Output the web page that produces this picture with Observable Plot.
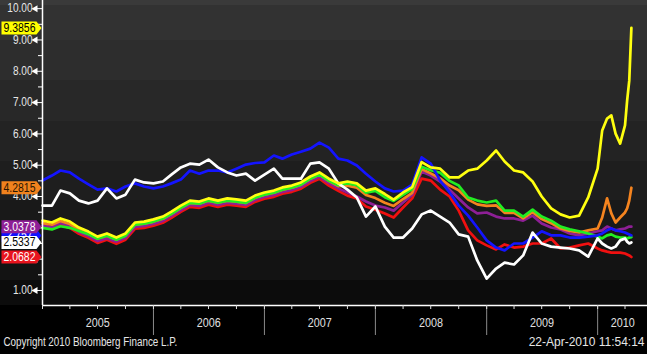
<!DOCTYPE html>
<html>
<head>
<meta charset="utf-8">
<script src="https://cdn.jsdelivr.net/npm/d3@7"></script>
<script src="https://cdn.jsdelivr.net/npm/@observablehq/plot@0.6"></script>
<style>
  html, body { margin: 0; padding: 0; background: #000; }
</style>
</head>
<body>
<div id="chart"></div>
<script>
// ---- Dates: month starts 2005-2009, then finer steps in 2010 ----
const monthlyDates = d3.utcMonth.range(new Date("2005-01-01"), new Date("2010-01-01"));
const dates2010 = ["2010-01-01","2010-01-16","2010-02-01","2010-02-15","2010-03-01","2010-03-16","2010-04-01","2010-04-08","2010-04-15","2010-04-22"].map(d => new Date(d));
const dates = monthlyDates.concat(dates2010);

// ---- Series values ----
const yellowVals = [
  3.23, 3.17, 3.30, 3.20, 3.01, 2.88, 2.72, 2.82, 2.69, 2.82, 3.17, 3.20,
  3.27, 3.36, 3.52, 3.71, 3.87, 3.84, 3.94, 3.87, 3.94, 3.91, 3.87, 4.03,
  4.13, 4.19, 4.29, 4.35, 4.45, 4.64, 4.77, 4.57, 4.42, 4.48, 4.42, 4.19,
  4.26, 4.08, 3.90, 4.13, 4.30, 5.10, 4.93, 4.89, 4.61, 4.61, 4.83, 4.89,
  5.15, 5.47, 5.12, 4.83, 4.77, 4.48, 4.00, 3.62, 3.43, 3.33, 3.39, 3.97,
  4.89, 6.11, 6.49, 6.59, 6.01, 5.69, 6.27, 7.06, 7.70, 9.3856
];
const greenVals = [
  3.00, 2.95, 3.05, 3.00, 2.90, 2.80, 2.65, 2.75, 2.62, 2.75, 3.10, 3.13,
  3.20, 3.30, 3.45, 3.64, 3.80, 3.77, 3.87, 3.80, 3.87, 3.84, 3.80, 3.96,
  4.06, 4.12, 4.22, 4.28, 4.38, 4.57, 4.70, 4.50, 4.36, 4.42, 4.36, 4.12,
  4.18, 3.98, 3.86, 4.05, 4.24, 4.95, 4.84, 4.76, 4.50, 4.35, 3.97, 3.87,
  3.81, 3.87, 3.55, 3.55, 3.36, 3.58, 3.36, 3.23, 3.04, 2.95, 2.89, 2.82,
  2.72, 2.66, 2.76, 2.79, 2.72, 2.69, 2.69, 2.66, 2.69, 2.70
];
const orangeVals = [
  3.15, 3.10, 3.22, 3.12, 2.94, 2.81, 2.66, 2.75, 2.63, 2.76, 3.10, 3.13,
  3.20, 3.29, 3.45, 3.64, 3.80, 3.77, 3.87, 3.80, 3.87, 3.84, 3.80, 3.96,
  4.06, 4.12, 4.22, 4.28, 4.38, 4.57, 4.70, 4.50, 4.33, 4.35, 4.28, 4.05,
  3.95, 3.80, 3.70, 3.92, 4.12, 4.88, 4.74, 4.58, 4.35, 4.20, 3.90, 3.75,
  3.70, 3.72, 3.48, 3.48, 3.30, 3.50, 3.28, 3.15, 2.98, 2.90, 2.85, 2.92,
  2.98, 3.33, 3.94, 3.46, 3.17, 3.33, 3.49, 3.62, 3.87, 4.2815
];
const purpleVals = [
  3.08, 3.02, 3.15, 3.07, 2.87, 2.74, 2.58, 2.67, 2.56, 2.68, 3.03, 3.06,
  3.13, 3.22, 3.38, 3.57, 3.73, 3.70, 3.80, 3.73, 3.80, 3.77, 3.73, 3.89,
  3.99, 4.05, 4.15, 4.21, 4.31, 4.50, 4.63, 4.43, 4.26, 4.13, 4.00, 3.84,
  3.71, 3.65, 3.55, 3.81, 4.06, 4.80, 4.67, 4.48, 4.22, 3.94, 3.65, 3.46,
  3.49, 3.36, 3.30, 3.30, 3.23, 3.39, 3.14, 3.01, 2.95, 2.82, 2.76, 2.82,
  2.89, 2.92, 3.04, 2.98, 2.92, 2.95, 2.98, 3.01, 3.04, 3.0378
];
const redVals = [
  3.02, 2.97, 3.09, 3.00, 2.81, 2.68, 2.52, 2.62, 2.49, 2.62, 2.97, 3.00,
  3.07, 3.16, 3.32, 3.51, 3.67, 3.64, 3.74, 3.67, 3.74, 3.71, 3.67, 3.83,
  3.93, 3.99, 4.09, 4.15, 4.25, 4.44, 4.57, 4.35, 4.18, 4.03, 3.94, 3.68,
  3.58, 3.46, 3.33, 3.65, 3.94, 4.57, 4.51, 4.22, 4.00, 3.55, 2.92, 2.60,
  2.44, 2.31, 2.47, 2.37, 2.40, 2.50, 2.50, 2.66, 2.34, 2.37, 2.44, 2.50,
  2.34, 2.28, 2.24, 2.21, 2.21, 2.21, 2.18, 2.15, 2.12, 2.0682
];
const blueVals = [
  4.51, 4.67, 4.83, 4.77, 4.57, 4.39, 4.22, 4.26, 4.16, 4.32, 4.42, 4.32,
  4.26, 4.32, 4.42, 4.54, 4.83, 4.73, 4.83, 4.83, 4.77, 4.89, 5.02, 5.07,
  5.09, 5.31, 5.21, 5.34, 5.43, 5.53, 5.72, 5.56, 5.21, 5.15, 4.99, 4.73,
  4.48, 4.26, 4.16, 4.19, 4.38, 5.25, 5.05, 4.51, 4.13, 3.71, 3.39, 3.01,
  2.60, 2.37, 2.28, 2.50, 2.50, 2.69, 2.89, 2.76, 2.76, 2.69, 2.69, 2.72,
  2.76, 2.82, 2.92, 2.98, 2.92, 2.89, 2.85, 2.82, 2.79, 2.757
];
const whiteVals = [
  3.71, 3.71, 4.19, 4.10, 3.87, 3.78, 3.87, 4.26, 3.94, 4.06, 4.54, 4.45,
  4.42, 4.48, 4.70, 4.93, 5.05, 5.02, 5.18, 4.93, 4.77, 4.67, 4.73, 4.51,
  4.70, 4.89, 4.57, 4.57, 4.57, 5.05, 5.09, 4.89, 4.42, 4.22, 3.97, 3.36,
  3.68, 3.04, 2.69, 2.69, 2.98, 3.43, 3.55, 3.36, 3.17, 2.79, 2.72, 1.96,
  1.38, 1.70, 1.89, 1.83, 2.12, 2.85, 2.50, 2.40, 2.37, 2.34, 2.28, 2.08,
  2.66, 2.50, 2.40, 2.34, 2.40, 2.60, 2.66, 2.56, 2.50, 2.5337
];

// ---- Last-value tags on the left ----
const tagValues = [9.3856, 4.2815, 2.757, 3.0378, 2.5337, 2.0682];
const tagLabels = ["9.3856", "4.2815", "2.757", "3.0378", "2.5337", "2.0682"];
const tagFills  = ["#ffff00", "#f0821e", "#1010ff", "#8e1f96", "#ffffff", "#e8141e"];
const tagInks   = ["#000000", "#2a1500", "#ffffff", "#ffffff", "#000000", "#ffffff"];

// ---- Axis ticks / labels ----
const yTicks = [1, 2, 3, 4, 5, 6, 7, 8, 9, 10];
const yMinorTicks = [1.5, 2.5, 3.5, 4.5, 5.5, 6.5, 7.5, 8.5, 9.5];
const yearLabels = ["2005", "2006", "2007", "2008", "2009", "2010"];
const yearLabelDates = ["2005-07-02", "2006-07-02", "2007-07-02", "2008-07-02", "2009-07-02", "2010-03-25"].map(d => new Date(d));
const yearStarts = ["2006-01-01", "2007-01-01", "2008-01-01", "2009-01-01", "2010-01-01"].map(d => new Date(d));
const quarterTicks = d3.utcMonth.every(3).range(new Date("2005-01-01"), new Date("2010-05-01"));

const mk = vals => dates.map((d, i) => ({date: d, value: vals[i]}));
const series = [
  {vals: redVals, color: "#f01010"},
  {vals: purpleVals, color: "#8e1f96"},
  {vals: orangeVals, color: "#f5841f"},
  {vals: greenVals, color: "#22ee22"},
  {vals: blueVals, color: "#1414ff"},
  {vals: whiteVals, color: "#ffffff"},
  {vals: yellowVals, color: "#ffff10"}
];

const tagSymbol = {
  draw(ctx) {
    ctx.moveTo(-18, -6.5);
    ctx.lineTo(17, -6.5);
    ctx.lineTo(22, 0);
    ctx.lineTo(17, 6.5);
    ctx.lineTo(-18, 6.5);
    ctx.closePath();
  }
};

const font = "'Liberation Sans', Arial, sans-serif";
const tags = tagValues.map((v, i) => ({value: v, label: tagLabels[i], fill: tagFills[i], ink: tagInks[i]}));

const bg = "linear-gradient(to bottom, #3a3a3a 0px, #3a3a3a 5px, #323232 5px, #323232 40px, #2d2d2d 40px, #2d2d2d 80px, #282828 80px, #282828 121px, #232323 121px, #232323 161px, #1e1e1e 161px, #1e1e1e 200px, #191919 200px, #191919 240px, #131313 240px, #131313 280px, #0c0c0c 280px, #0c0c0c 305px, #000 305px, #000 354px)";

const chart = Plot.plot({
  width: 647,
  height: 354,
  marginLeft: 42,
  marginRight: 0,
  marginTop: 0,
  marginBottom: 49,
  x: {type: "utc", domain: [new Date("2005-01-01"), new Date("2010-06-14")]},
  y: {domain: [0.52, 10.26]},
  color: {type: "identity"},
  style: {background: bg, fontFamily: font, fontSize: "12px", color: "#e6e6e6", overflow: "visible"},
  marks: [
    ...series.map(s => Plot.line(mk(s.vals), {x: "date", y: "value", stroke: s.color, strokeWidth: 2.7, strokeLinejoin: "round"})),
    // frame lines
    Plot.ruleX([new Date("2005-01-01")], {stroke: "#ffffff", strokeWidth: 1.5}),
    Plot.ruleY([0.52], {stroke: "#ffffff", strokeWidth: 1.5}),
    // y axis
    Plot.axisY({ticks: yTicks, tickFormat: d3.format(".2f"), tickSize: 8, tickPadding: 2, stroke: "#ffffff", fill: "#e6e6e6", fontSize: 12, label: null}),
    Plot.axisY({ticks: yMinorTicks, tickFormat: () => "", tickSize: 4, stroke: "#ffffff", label: null}),
    Plot.dot(yTicks, {y: d => d, frameAnchor: "left", dx: -7, symbol: "triangle", r: 2.6, rotate: -90, fill: "#ffffff", stroke: null}),
    // x axis
    Plot.axisX({ticks: yearStarts, tickFormat: () => "", tickSize: 30, stroke: "#8a8a8a", label: null}),
    Plot.axisX({ticks: quarterTicks, tickFormat: () => "", tickSize: 4, stroke: "#dddddd", label: null}),
    Plot.text(yearLabels, {x: (d, i) => yearLabelDates[i], text: d => d, frameAnchor: "bottom", dy: 21, fill: "#e0e0e0", fontSize: 12}),
    // tags
    ...tags.flatMap(t => [
      Plot.dot([t], {y: "value", frameAnchor: "left", dx: -23, symbol: tagSymbol, fill: "fill", stroke: null}),
      Plot.text([t], {y: "value", frameAnchor: "left", dx: -23, text: "label", fill: "ink", fontSize: 12, textAnchor: "middle"})
    ]),
    // footer
    Plot.text(["Copyright 2010 Bloomberg Finance L.P."], {frameAnchor: "bottom-left", dx: -39, dy: 40, textAnchor: "start", fill: "#e6e6e6", fontSize: 12}),
    Plot.text(["22-Apr-2010 11:54:14"], {frameAnchor: "bottom-right", dx: -3, dy: 40, textAnchor: "end", fill: "#e6e6e6", fontSize: 12})
  ]
});
document.getElementById("chart").appendChild(chart);

// Condense text horizontally to mimic the narrow terminal font
function squeeze(s) {
  if (s.includes("Copyright")) return 0.82;
  if (/^\d{4}$/.test(s)) return 0.9;
  if (/^\d+\.\d\d$/.test(s)) return 0.84;
  if (/^\d\.\d{3,4}$/.test(s)) return 0.87;
  return 1;
}
chart.querySelectorAll("text").forEach(t => {
  const w = t.getComputedTextLength();
  const f = squeeze(t.textContent.trim());
  if (w > 0 && f < 1) {
    t.setAttribute("textLength", (w * f).toFixed(1));
    t.setAttribute("lengthAdjust", "spacingAndGlyphs");
  }
});
</script>
</body>
</html>
